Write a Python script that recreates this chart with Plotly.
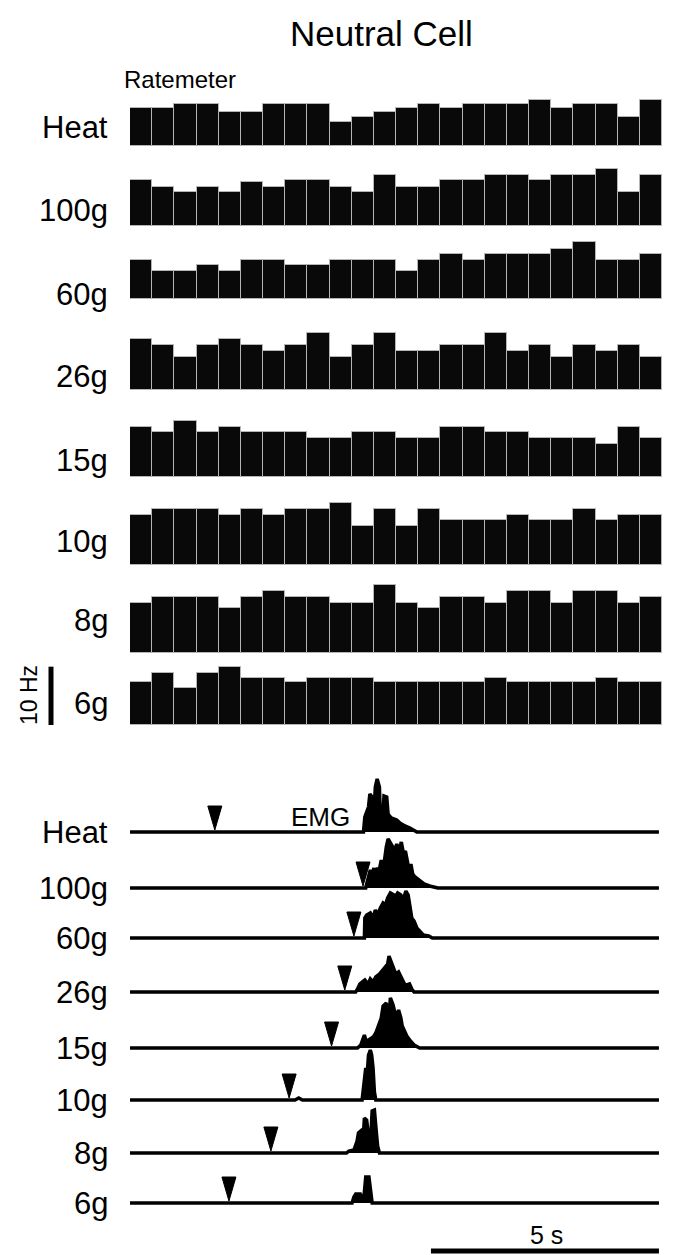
import plotly.graph_objects as go

# ---------------- data ----------------
CONDITIONS = ["Heat", "100g", "60g", "26g", "15g", "10g", "8g", "6g"]
BIN_INDEX = list(range(24))

# Ratemeter firing rates (Hz) per bin
rate_heat = [6.5, 6.5, 7.2, 7.2, 5.8, 5.8, 7.2, 7.2, 7.2, 4.2, 4.9, 5.8, 6.5, 7.2, 6.5, 7.2, 7.2, 7.2, 7.9, 6.5, 7.2, 7.2, 4.9, 7.9]
rate_100g = [7.8, 6.7, 5.7, 6.7, 5.7, 7.5, 6.7, 7.8, 7.8, 6.7, 5.7, 8.7, 6.7, 6.7, 7.8, 7.8, 8.7, 8.7, 7.8, 8.7, 8.7, 9.7, 5.7, 8.7]
rate_60g = [6.7, 4.9, 4.9, 5.8, 4.9, 6.7, 6.7, 5.8, 5.8, 6.7, 6.7, 6.7, 4.9, 6.7, 7.8, 6.7, 7.8, 7.8, 7.8, 8.7, 9.8, 6.7, 6.7, 7.8]
rate_26g = [8.7, 7.8, 5.7, 7.8, 8.7, 7.8, 6.7, 7.8, 9.7, 5.7, 7.8, 9.7, 6.7, 6.7, 7.8, 7.8, 9.7, 6.7, 7.8, 5.7, 7.8, 6.7, 7.8, 5.7]
rate_15g = [8.6, 7.6, 9.6, 7.6, 8.6, 7.6, 7.6, 7.6, 6.6, 6.6, 7.6, 7.6, 6.6, 6.6, 8.6, 8.6, 7.6, 7.6, 6.6, 6.6, 6.6, 5.6, 8.6, 6.6]
rate_10g = [8.6, 9.6, 9.6, 9.6, 8.6, 9.6, 8.6, 9.6, 9.6, 10.6, 6.7, 9.6, 6.7, 9.6, 7.7, 7.7, 7.7, 8.6, 7.7, 7.7, 9.6, 7.7, 8.6, 8.6]
rate_8g = [8.7, 9.7, 9.7, 9.7, 7.7, 9.7, 10.7, 9.7, 9.7, 8.7, 8.7, 11.7, 8.7, 7.7, 9.7, 9.7, 8.7, 10.7, 10.7, 8.7, 10.7, 10.7, 8.7, 9.7]
rate_6g = [7.3, 9.0, 6.3, 9.0, 9.9, 8.1, 8.1, 7.3, 8.1, 8.1, 8.1, 7.3, 7.3, 7.3, 7.3, 7.3, 8.1, 7.3, 7.3, 7.3, 7.3, 8.1, 7.3, 7.3]
RATES = [rate_heat, rate_100g, rate_60g, rate_26g, rate_15g, rate_10g, rate_8g, rate_6g]

# EMG envelopes: time (s) and amplitude (a.u.)
emg_heat_t = [0, 5.12, 5.15, 5.23, 5.26, 5.31, 5.35, 5.38, 5.42, 5.47, 5.49, 5.54, 5.57, 5.63, 5.66, 5.73, 5.85, 5.92, 6.03, 6.14, 6.29, 11.6]
emg_heat_a = [0, 0, 15, 25, 38, 35, 20, 45, 53, 45, 15, 12, 36, 35, 18, 14, 12, 9, 6, 4, 0, 0]
emg_100g_t = [0, 5.17, 5.19, 5.23, 5.27, 5.31, 5.35, 5.38, 5.42, 5.47, 5.51, 5.55, 5.58, 5.62, 5.66, 5.70, 5.75, 5.80, 5.85, 5.90, 5.95, 6.00, 6.04, 6.08, 6.12, 6.16, 6.20, 6.25, 6.33, 6.45, 6.57, 6.75, 11.6]
emg_100g_a = [0, 0, 4, 11, 18, 14, 20, 11, 19, 19, 28, 17, 28, 41, 49, 46, 41, 38, 44, 36, 46, 34, 37, 29, 18, 24, 14, 11, 8, 4, 2, 0, 0]
emg_60g_t = [0, 5.14, 5.15, 5.19, 5.27, 5.33, 5.38, 5.43, 5.49, 5.55, 5.60, 5.65, 5.71, 5.78, 5.83, 5.87, 5.94, 5.99, 6.05, 6.10, 6.13, 6.18, 6.23, 6.29, 6.35, 6.43, 6.55, 6.63, 11.6]
emg_60g_a = [0, 0, 20, 23, 25, 20, 28, 23, 30, 35, 33, 40, 45, 43, 42, 45, 43, 38, 47, 43, 33, 20, 17, 10, 7, 3, 2, 0, 0]
emg_26g_t = [0, 4.95, 4.99, 5.04, 5.09, 5.15, 5.22, 5.27, 5.33, 5.39, 5.47, 5.54, 5.59, 5.65, 5.68, 5.73, 5.78, 5.83, 5.89, 5.95, 6.02, 6.07, 6.13, 6.18, 6.23, 11.6]
emg_26g_a = [0, 0, 3, 8, 10, 12, 8, 13, 10, 15, 18, 22, 25, 28, 36, 30, 22, 18, 20, 15, 8, 7, 8, 3, 0, 0]
emg_15g_t = [0, 4.99, 5.06, 5.09, 5.14, 5.19, 5.23, 5.30, 5.35, 5.39, 5.46, 5.51, 5.55, 5.62, 5.67, 5.71, 5.77, 5.81, 5.86, 5.89, 5.94, 5.97, 6.02, 6.07, 6.15, 6.23, 6.35, 11.6]
emg_15g_a = [0, 0, 3, 7, 13, 5, 8, 10, 12, 15, 25, 30, 42, 45, 25, 50, 43, 35, 32, 38, 30, 22, 17, 12, 7, 3, 0, 0]
emg_10g_t = [0, 3.62, 3.70, 3.78, 5.09, 5.14, 5.17, 5.20, 5.23, 5.27, 5.30, 5.33, 5.36, 5.39, 11.6]
emg_10g_a = [0, 0, 2, 0, 0, 18, 32, 25, 45, 50, 45, 32, 8, 0, 0]
emg_8g_t = [0, 4.75, 4.80, 4.91, 4.98, 5.01, 5.06, 5.11, 5.14, 5.19, 5.23, 5.27, 5.31, 5.36, 5.39, 5.43, 5.47, 11.6]
emg_8g_a = [0, 0, 2, 3, 12, 20, 22, 12, 35, 33, 17, 7, 42, 43, 27, 7, 0, 0]
emg_6g_t = [0, 4.87, 4.91, 4.95, 5.05, 5.09, 5.13, 5.17, 5.24, 5.28, 5.31, 11.6]
emg_6g_a = [0, 0, 6, 9, 9, 5, 6, 26, 26, 8, 0, 0]
EMG_T = [emg_heat_t, emg_100g_t, emg_60g_t, emg_26g_t, emg_15g_t, emg_10g_t, emg_8g_t, emg_6g_t]
EMG_A = [emg_heat_a, emg_100g_a, emg_60g_a, emg_26g_a, emg_15g_a, emg_10g_a, emg_8g_a, emg_6g_a]

# stimulus onset times (s)
STIM_T = [1.86, 5.11, 4.91, 4.71, 4.42, 3.49, 3.09, 2.17]

SCALE_HZ = 10
SCALE_S = 5

# ---------------- layout geometry ----------------
W, H = 674, 1255
FONT = "Liberation Sans, Arial, sans-serif"
PX_PER_HZ = 5.833
PX_PER_S = 45.6
X_LEFT, X_RIGHT = 130, 662
RM_TOP, RM_BOT = 90, 740
EMG_TOP, EMG_BOT = 760, 1215
RM_BASE_PX = [146, 225.7, 299.3, 390, 476.7, 565, 653.3, 725]
RM_LABEL_PX = [128, 211, 294, 376, 460, 541, 620, 703]
EMG_BASE_PX = [832, 888, 938, 992, 1048, 1100, 1153, 1203]
TRI_H, TRI_GAP, TRI_HW = 24, 2, 7
LABEL_SIZE = 31


def px_y(y):
    return 1 - y / H


rm_off = [(RM_BOT - b) / PX_PER_HZ for b in RM_BASE_PX]
emg_off = [EMG_BOT - b for b in EMG_BASE_PX]

fig = go.Figure()

for vals, off in zip(RATES, rm_off):
    fig.add_trace(go.Bar(
        x=BIN_INDEX, y=vals, base=off, width=1,
        marker=dict(color="#090909", line=dict(color="#b5b5b5", width=1)),
        xaxis="x", yaxis="y", hoverinfo="skip"))

for t, a, off in zip(EMG_T, EMG_A, emg_off):
    fig.add_trace(go.Scatter(
        x=t, y=[off + v for v in a], mode="lines",
        line=dict(color="black", width=3.5), fill="toself", fillcolor="black",
        xaxis="x2", yaxis="y2", hoverinfo="skip"))

hw = TRI_HW / PX_PER_S
for ts, off in zip(STIM_T, emg_off):
    fig.add_trace(go.Scatter(
        x=[ts - hw, ts + hw, ts, ts - hw],
        y=[off + TRI_GAP + TRI_H, off + TRI_GAP + TRI_H, off + TRI_GAP, off + TRI_GAP + TRI_H],
        mode="lines", line=dict(color="black", width=1), fill="toself", fillcolor="black",
        xaxis="x2", yaxis="y2", hoverinfo="skip"))

ann = []
for name, yl in zip(CONDITIONS, RM_LABEL_PX):
    ann.append(dict(text=name, x=110 / W, y=px_y(yl), xref="paper", yref="paper",
                    xanchor="right", yanchor="middle", showarrow=False,
                    font=dict(family=FONT, size=LABEL_SIZE, color="black")))
for name, yl in zip(CONDITIONS, EMG_BASE_PX):
    ann.append(dict(text=name, x=110 / W, y=px_y(yl), xref="paper", yref="paper",
                    xanchor="right", yanchor="middle", showarrow=False,
                    font=dict(family=FONT, size=LABEL_SIZE, color="black")))

ann += [
    dict(text="Neutral Cell", x=381 / W, y=px_y(34), xref="paper", yref="paper",
         xanchor="center", yanchor="middle", showarrow=False,
         font=dict(family=FONT, size=35, color="black")),
    dict(text="Ratemeter", x=122 / W, y=px_y(80), xref="paper", yref="paper",
         xanchor="left", yanchor="middle", showarrow=False,
         font=dict(family=FONT, size=24, color="black")),
    dict(text="EMG", x=352 / W, y=px_y(817), xref="paper", yref="paper",
         xanchor="right", yanchor="middle", showarrow=False,
         font=dict(family=FONT, size=26, color="black")),
    dict(text="10 Hz", x=29 / W, y=px_y(695), xref="paper", yref="paper",
         xanchor="center", yanchor="middle", showarrow=False, textangle=-90,
         font=dict(family=FONT, size=23, color="black")),
    dict(text="5 s", x=546 / W, y=px_y(1235), xref="paper", yref="paper",
         xanchor="center", yanchor="middle", showarrow=False,
         font=dict(family=FONT, size=25, color="black")),
]

t_end = (X_RIGHT - X_LEFT) / PX_PER_S
shapes = [
    dict(type="line", xref="paper", yref="y", x0=51 / W, x1=51 / W,
         y0=rm_off[-1], y1=rm_off[-1] + SCALE_HZ, line=dict(color="black", width=5)),
    dict(type="line", xref="x2", yref="paper", x0=emg_heat_t[-1] - SCALE_S, x1=emg_heat_t[-1],
         y0=px_y(1251), y1=px_y(1251), line=dict(color="black", width=5)),
]

hidden = dict(visible=False, fixedrange=True)
fig.update_layout(
    width=W, height=H, margin=dict(l=0, r=0, t=0, b=0),
    paper_bgcolor="white", plot_bgcolor="white", showlegend=False,
    barmode="overlay", bargap=0,
    xaxis=dict(domain=[X_LEFT / W, X_RIGHT / W], range=[-0.5, 23.5], anchor="y", **hidden),
    yaxis=dict(domain=[px_y(RM_BOT), px_y(RM_TOP)], range=[0, (RM_BOT - RM_TOP) / PX_PER_HZ], anchor="x", **hidden),
    xaxis2=dict(domain=[X_LEFT / W, X_RIGHT / W], range=[0, t_end], anchor="y2", **hidden),
    yaxis2=dict(domain=[px_y(EMG_BOT), px_y(EMG_TOP)], range=[0, EMG_BOT - EMG_TOP], anchor="x2", **hidden),
    annotations=ann, shapes=shapes,
)

fig.write_html("out.html", config={"displayModeBar": False},
               post_script="document.body.style.margin='0px';document.body.style.padding='0px';")
